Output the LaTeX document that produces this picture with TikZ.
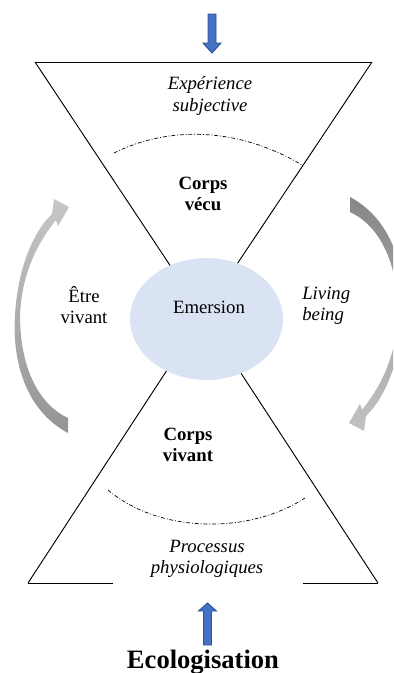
\documentclass[tikz,border=0pt]{standalone}
\usepackage{fontspec}
\setmainfont{Liberation Serif}
\usetikzlibrary{shapes.geometric}
\definecolor{ellblue}{RGB}{218,227,243}
\definecolor{arrblue}{RGB}{68,114,196}
\definecolor{arredge}{RGB}{47,82,143}
\tikzset{
  txt/.style={font=\fontsize{12}{13.8}\selectfont, align=center, inner sep=0pt},
  txtit/.style={txt, font=\fontsize{12}{13.8}\selectfont\itshape},
  txtbf/.style={txt, font=\fontsize{12}{13.8}\selectfont\bfseries},
  side/.style={line width=0.6pt, black},
  limit/.style={line width=0.45pt, dash pattern=on 2.5pt off 1.2pt on 0.6pt off 1.2pt},
  bluearrow/.style={fill=arrblue, draw=arredge, line width=0.6pt, line join=miter},
}
\begin{document}
\begin{tikzpicture}[x=0.64pt, y=-0.64pt]
			\useasboundingbox (0,0) rectangle (393,673);
			\clip (0,0) rectangle (393,673);
			
			% corners of the two triangles
			\coordinate (tl) at (35,62);
			\coordinate (tr) at (372,62);
			\coordinate (apex) at (203,315);
			\coordinate (bl) at (28,583);
			\coordinate (br) at (378,583);
			\coordinate (blg) at (113,583);
			\coordinate (brg) at (303,583);
			
			\draw[side] (tl) -- (tr);
			\draw[side] (tl) -- (apex);
			\draw[side] (tr) -- (apex);
			\draw[side] (bl) -- (apex);
			\draw[side] (br) -- (apex);
			\draw[side] (bl) -- (blg);
			\draw[side] (brg) -- (br);
			
			% dash-dot limits
			\coordinate (ua) at (114,153);
			\coordinate (ub) at (302,165);
			\coordinate (la) at (108,490);
			\coordinate (lb) at (305,498);
			\draw[limit] (ua) .. controls (170,125) and (240,128) .. (ub);
			\draw[limit] (la) .. controls (160,534) and (250,534) .. (lb);
			
			\node[ellipse, fill=ellblue, minimum width=97.9pt, minimum height=78pt, inner sep=0pt] (ell) at (206.5,319) {};
			
			% curved grey arrows
			\shade[top color=black!22, bottom color=black!42]
				(68,433) .. controls (25,410) and (12,360) .. (15,315)
				.. controls (18,265) and (35,230) .. (52,214)
				-- (54,199) -- (69,207) -- (58,226) -- (56,220)
				.. controls (40,240) and (22,270) .. (20,315)
				.. controls (20,370) and (40,405) .. (68,418) -- cycle;
			\shade[top color=black!47, bottom color=black!24]
				(350,197) .. controls (393,220) and (406,270) .. (403,315)
				.. controls (400,365) and (383,400) .. (366,416)
				-- (364,431) -- (349,423) -- (360,404) -- (362,410)
				.. controls (378,390) and (396,360) .. (398,315)
				.. controls (398,260) and (378,225) .. (350,212) -- cycle;
			
			% blue arrows
			\draw[bluearrow] (208,14) -- (216,14) -- (216,43) -- (221,43) -- (212,53) -- (203,43) -- (208,43) -- cycle;
			\draw[bluearrow] (203.5,645) -- (211.5,645) -- (211.5,611) -- (216.5,611) -- (207.5,603) -- (198.5,611) -- (203.5,611) -- cycle;
			
			% texts
			\node[txtit] (exp) at (210,96) {Expérience\\subjective};
			\node[txtbf] (vecu) at (203,194) {Corps\\vécu};
			\node[txt] (emer) at (209,307) {Emersion};
			\node[txt] (etre) at (84,305) {Être\\vivant};
			\node[txtit, align=left, anchor=west] (living) at (302,306) {Living\\being};
			\node[txtbf] (vivant) at (188,445) {Corps\\vivant};
			\node[txtit] (proc) at (207,559) {Processus\\physiologiques};
			\node[txt, font=\fontsize{17}{20}\selectfont\bfseries] (eco) at (203,662) {Ecologisation};
		\end{tikzpicture}
\end{document}
